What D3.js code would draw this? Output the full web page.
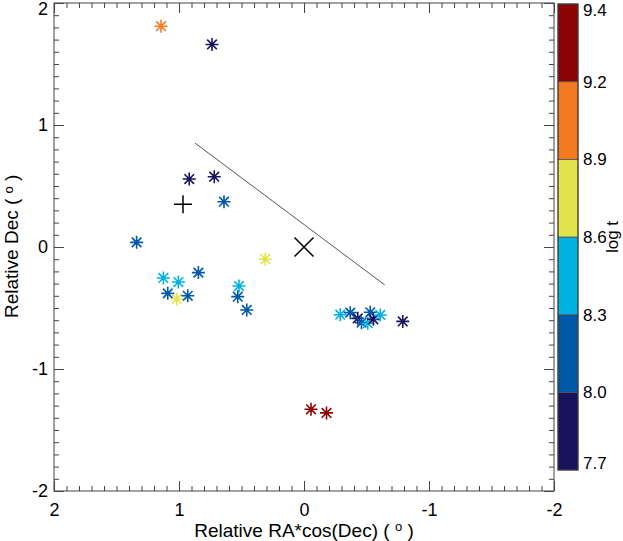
<!DOCTYPE html>
<html lang="en">
<head>
<meta charset="UTF-8">
<script src="https://d3js.org/d3.v7.min.js"></script>
<style>
body { margin: 0; background: #fff; }
svg { display: block; font-family: "Liberation Sans", Arial, sans-serif; }
.axis path, .axis line { stroke: #444; }
.axis text { font-size: 18px; fill: #000; font-family: "Liberation Sans", Arial, sans-serif; }
</style>
</head>
<body>
<svg id="chart" width="623" height="541"></svg>
<script>
// star positions (deg) and log age
var raOff  = [1.144, 0.736, 0.918, 0.718, 0.64, 1.339, 0.31, 1.125, 1.005, 0.845, 1.09, 1.018, 0.93, 0.52, 0.53, 0.458,
              -0.29, -0.37, -0.43, -0.46, -0.51, -0.53, -0.555, -0.61, -0.79, -0.056, -0.18]
var decOff = [1.81, 1.66, 0.557, 0.576, 0.371, 0.038, -0.10, -0.254, -0.287, -0.21, -0.38, -0.426, -0.40, -0.32, -0.407, -0.516,
              -0.555, -0.538, -0.585, -0.62, -0.625, -0.535, -0.593, -0.557, -0.61, -1.33, -1.36]
var logT   = [9.05, 7.85, 7.85, 7.85, 8.15, 8.15, 8.75, 8.45, 8.45, 8.15, 8.15, 8.75, 8.15, 8.45, 8.15, 8.15,
              8.45, 8.15, 7.85, 8.15, 8.45, 8.15, 7.85, 8.45, 7.85, 9.3, 9.3]

var bandEdges  = [7.7, 8.0, 8.3, 8.6, 8.9, 9.2, 9.4]
var bandLabels = ["7.7", "8.0", "8.3", "8.6", "8.9", "9.2", "9.4"]
var bandColors = ["#19125c", "#0058a8", "#00b1e2", "#e3e34b", "#f47a22", "#8c0303"]

var plusMark = {ra: 0.968, dec: 0.35}
var crossMark = {ra: 0, dec: 0}
var lineEnds = [{ra: 0.872, dec: 0.852}, {ra: -0.645, dec: -0.31}]

var svg = d3.select("#chart")
var pLeft = 54, pRight = 554, pTop = 3, pBottom = 491

var x = d3.scaleLinear().domain([2, -2]).range([pLeft, pRight])
var y = d3.scaleLinear().domain([2, -2]).range([pTop, pBottom])
var color = d3.scaleThreshold().domain(bandEdges.slice(1, -1)).range(bandColors)

var majors = [2, 1, 0, -1, -2]
var minors = d3.range(-20, 21).map(d => d / 10)
var fmt = d => d3.format("d")(d).replace("−", "-")

// frame
svg.append("rect")
    .attr("x", pLeft).attr("y", pTop)
    .attr("width", pRight - pLeft).attr("height", pBottom - pTop)
    .attr("fill", "none").attr("stroke", "#444")

function addAxis(gen, tr, vals, size, labels) {
    var g = svg.append("g").attr("class", "axis").attr("transform", tr)
        .call(gen.tickValues(vals).tickSizeInner(-size).tickSizeOuter(0)
            .tickFormat(labels ? fmt : ""))
    g.select(".domain").remove()
    return g
}
addAxis(d3.axisBottom(x), `translate(0,${pBottom})`, minors, 5, false)
addAxis(d3.axisBottom(x), `translate(0,${pBottom})`, majors, 10, true).call(g => g.selectAll("text").attr("y", 12))
addAxis(d3.axisTop(x), `translate(0,${pTop})`, minors, 5, false)
addAxis(d3.axisTop(x), `translate(0,${pTop})`, majors, 10, false)
addAxis(d3.axisLeft(y), `translate(${pLeft},0)`, minors, 5, false)
addAxis(d3.axisLeft(y), `translate(${pLeft},0)`, majors, 10, true)
    .call(g => g.selectAll("text").attr("x", -6).attr("y", d => d === 2 ? 6 : 0))
addAxis(d3.axisRight(y), `translate(${pRight},0)`, minors, 5, false)
addAxis(d3.axisRight(y), `translate(${pRight},0)`, majors, 10, false)

// axis titles
var xt = svg.append("text").attr("x", (pLeft + pRight) / 2).attr("y", 537)
    .attr("text-anchor", "middle").attr("font-size", 19)
xt.append("tspan").text("Relative RA*cos(Dec) (  ")
xt.append("tspan").attr("font-size", 13).attr("dy", -6).text("o")
xt.append("tspan").attr("dy", 6).text("  )")

var yt = svg.append("text").attr("transform", `translate(18,318) rotate(-90)`)
    .attr("text-anchor", "start").attr("font-size", 19)
yt.append("tspan").text("Relative Dec (  ")
yt.append("tspan").attr("font-size", 13).attr("dy", -5).text("o")
yt.append("tspan").attr("dy", 5).text("  )")

// guide line
svg.append("line")
    .attr("x1", x(lineEnds[0].ra)).attr("y1", y(lineEnds[0].dec))
    .attr("x2", x(lineEnds[1].ra)).attr("y2", y(lineEnds[1].dec))
    .attr("stroke", "#555").attr("stroke-width", 1)

// plus and cross markers
var px = x(plusMark.ra), py = y(plusMark.dec)
svg.append("path").attr("d", `M${px - 9},${py}H${px + 9}M${px},${py - 9}V${py + 9}`)
    .attr("stroke", "#000").attr("stroke-width", 1.5)
var cx = x(crossMark.ra), cy = y(crossMark.dec), r = 9.5
svg.append("path").attr("d", `M${cx - r},${cy - r}L${cx + r},${cy + r}M${cx - r},${cy + r}L${cx + r},${cy - r}`)
    .attr("stroke", "#000").attr("stroke-width", 1.5)

// asterisks
var stars = raOff.map((d, i) => ({ra: d, dec: decOff[i], t: logT[i]}))
var s = 6.5, s2 = 4.8
var starPath = `M${-s},0H${s}M0,${-s}V${s}M${-s2},${-s2}L${s2},${s2}M${-s2},${s2}L${s2},${-s2}`
svg.append("g").selectAll("path")
    .data(stars)
    .enter().append("path")
    .attr("transform", d => `translate(${x(d.ra)},${y(d.dec)})`)
    .attr("d", starPath)
    .attr("stroke", d => color(d.t))
    .attr("stroke-width", 1.6)
    .attr("fill", "none")

// colour bar
var cbX = 558, cbW = 20
var cb = d3.scaleLinear().domain([0, bandColors.length]).range([470, 4])
svg.append("g").selectAll("rect")
    .data(bandColors)
    .enter().append("rect")
    .attr("x", cbX).attr("width", cbW)
    .attr("y", (d, i) => cb(i + 1))
    .attr("height", (d, i) => cb(i) - cb(i + 1))
    .attr("fill", d => d)
    .attr("stroke", "#555").attr("stroke-width", 0.8)
svg.append("rect").attr("x", cbX).attr("y", cb(bandColors.length))
    .attr("width", cbW).attr("height", cb(0) - cb(bandColors.length))
    .attr("fill", "none").attr("stroke", "#333")

svg.append("g").selectAll("text")
    .data(bandLabels)
    .enter().append("text")
    .attr("x", 583)
    .attr("y", (d, i) => Math.min(Math.max(cb(i), 10), 463))
    .attr("dy", "0.35em")
    .attr("font-size", 17)
    .text(d => d)

svg.append("text")
    .attr("transform", `translate(618,${(cb(0) + cb(bandColors.length)) / 2}) rotate(-90)`)
    .attr("text-anchor", "middle").attr("font-size", 17)
    .text("log t")
</script>
</body>
</html>
